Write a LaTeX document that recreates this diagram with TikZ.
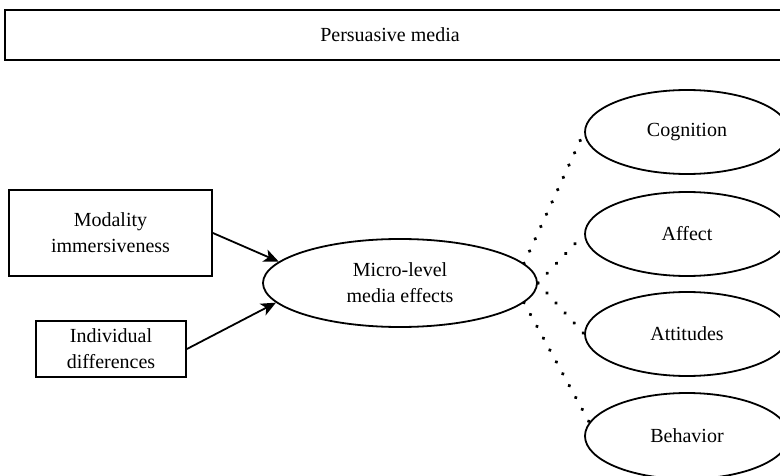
\documentclass[tikz,border=0pt]{standalone}
\usepackage{fontspec}
\setmainfont{Liberation Serif}
\usetikzlibrary{arrows.meta,shapes.geometric}
\begin{document}
\begin{tikzpicture}[x=1pt,y=-1pt,
  every node/.style={font=\fontsize{20}{26}\selectfont, align=center},
  box/.style={draw, line width=1.8pt, rectangle, inner sep=0pt},
  oval/.style={draw, line width=1.8pt, ellipse, inner sep=0pt, minimum width=204, minimum height=84},
  arr/.style={line width=1.8pt, -{Stealth[length=15pt,width=13pt,inset=4pt]}},
  dots/.style={line width=3.8pt, line cap=round, dash pattern=on 0.01pt off 13.5pt}]
\clip (0,0) rectangle (780,476);
\fill[white] (0,0) rectangle (780,476);
% top box
\draw[line width=2.2pt] (5,10) rectangle (800,60);
\node (media) at (390,35) {Persuasive media};
% left boxes
\node[box, minimum width=203, minimum height=86] (modality) at (110.5,233) {Modality\\immersiveness};
\node[box, minimum width=150, minimum height=56] (indiv) at (111,349) {Individual\\differences};
% central ellipse
\node[draw, line width=1.8pt, ellipse, inner sep=0pt, minimum width=274, minimum height=88] (micro) at (400,283) {Micro-level\\media effects};
% outcome ellipses
\node[oval] (cog) at (687,132) {Cognition};
\node[oval] (aff) at (687,234) {Affect};
\node[oval] (att) at (687,334) {Attitudes};
\node[oval, minimum height=86] (beh) at (687,436) {Behavior};
% arrows
\draw[arr] (modality.east) -- (micro.170.8);
\draw[arr] (indiv.east) -- (micro.189.5);
% dotted links
\draw[dots] (micro.9.5) -- (cog.west);
\draw[dots] (micro.east) -- (aff.west);
\draw[dots] (micro.east) -- (att.west);
\draw[dots] (micro.-9.8) -- (beh.172);
\end{tikzpicture}
\end{document}
